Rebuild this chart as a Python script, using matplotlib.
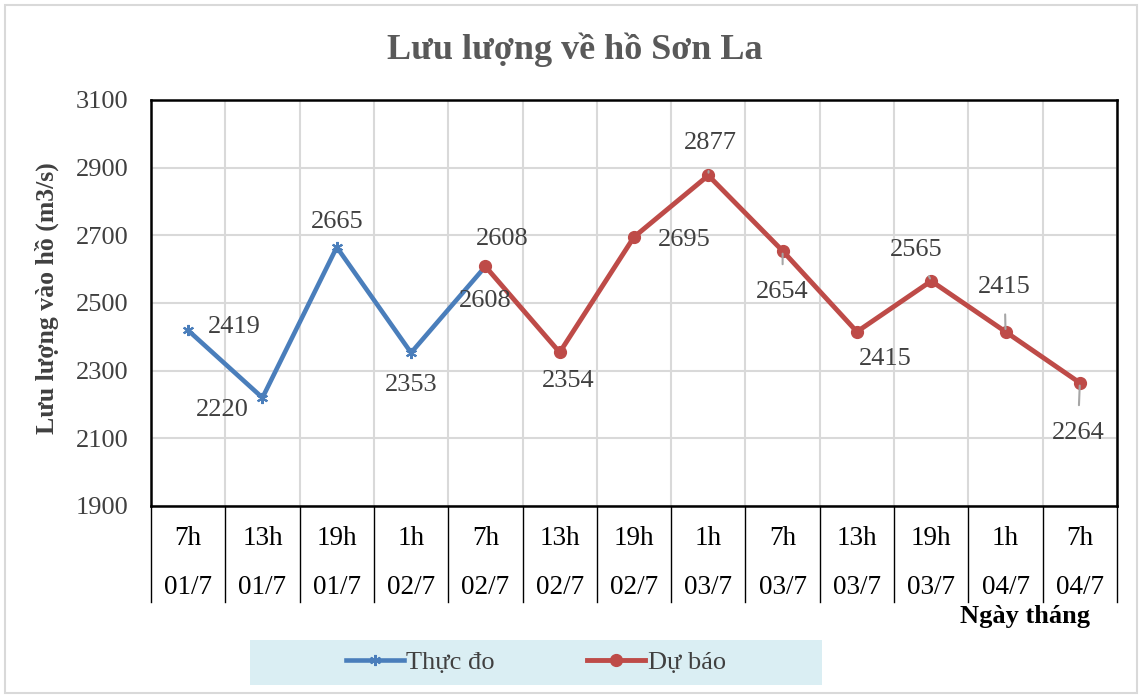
import numpy as np
import matplotlib.pyplot as plt
import matplotlib.patches as patches
import matplotlib.lines as mlines
import matplotlib.transforms as mtransforms

# data
gio = ["7h", "13h", "19h", "1h", "7h", "13h", "19h", "1h", "7h", "13h", "19h", "1h", "7h"]
ngay = ["01/7", "01/7", "01/7", "02/7", "02/7", "02/7", "02/7", "03/7", "03/7", "03/7", "03/7", "04/7", "04/7"]
thuc_do = [2419, 2220, 2665, 2353, 2608]
du_bao = [2608, 2354, 2695, 2877, 2654, 2415, 2565, 2415, 2264]
y_ticks = [1900, 2100, 2300, 2500, 2700, 2900, 3100]

BLUE = "#4A7EBB"
RED = "#BE4B48"
TXT = "#404040"
FONT = "Liberation Serif"

plt.rcParams['font.family'] = [FONT, 'DejaVu Serif']

fig = plt.figure(figsize=(11.42, 6.98), dpi=100)
fig.patch.set_facecolor("white")
fig.add_artist(patches.Rectangle((5/1142, 5/698), 1132/1142, 688/698, transform=fig.transFigure,
                                 fill=False, edgecolor="#D9D9D9", lw=1.5))

ax = fig.add_axes([151/1142, 1 - 506/698, 966/1142, 406/698])

x_td = np.arange(len(thuc_do))
x_db = np.arange(len(thuc_do) - 1, len(thuc_do) - 1 + len(du_bao))

ax.plot(x_td, thuc_do, color=BLUE, lw=3.3, marker=(6, 2, 0), markersize=8,
        markeredgewidth=1.5, markeredgecolor=BLUE, zorder=3)
ax.plot(x_db, du_bao, color=RED, lw=3.5, marker="o", markersize=8.5, zorder=4)

ax.set_xlim(-0.5, len(gio) - 0.5)
ax.set_ylim(y_ticks[0], y_ticks[-1])
ax.set_yticks(y_ticks)
ax.set_xticks(np.arange(len(gio) + 1) - 0.5, minor=True)
ax.set_xticks([])
ax.grid(True, which="minor", axis="x", color="#D9D9D9", lw=1.5)
ax.grid(True, which="major", axis="y", color="#D9D9D9", lw=1.5)
ax.tick_params(axis="y", length=0, pad=16, labelsize=19, labelcolor=TXT)
ax.tick_params(axis="x", which="both", length=0)
for s in ax.spines.values():
    s.set_linewidth(1.8)
    s.set_color("black")
ax.set_axisbelow(True)

# category labels and separators under the plot
trans = mtransforms.blended_transform_factory(ax.transData, ax.transAxes)
for i in range(len(gio)):
    ax.text(i, -0.079, gio[i], transform=trans, ha="center", va="center", fontsize=19.5, color="black")
    ax.text(i, -0.200, ngay[i], transform=trans, ha="center", va="center", fontsize=19.5, color="black")
for b in np.arange(len(gio) + 1) - 0.5:
    ax.plot([b, b], [0, -0.236], transform=trans, color="black", lw=1, clip_on=False)

# data labels (offsets in pixels)
lbl_td = [(46, 3, False), (-40, -12, False), (0, 25, False), (0, -32, False), (0, -35, False)]
lbl_db = [(17, 27, False), (8, -29, False), (50, -3, False), (2, 32, True), (0, -41, True),
          (28, -27, False), (-15, 31, True), (-1, 45, True), (-2, -50, True)]
for xs, ys, offs in [(x_td, thuc_do, lbl_td), (x_db, du_bao, lbl_db)]:
    for xv, yv, (dx, dy, lead) in zip(xs, ys, offs):
        ap = dict(arrowstyle="-", color="#A6A6A6", lw=1.5, shrinkA=10, shrinkB=2) if lead else None
        ax.annotate(str(yv), (xv, yv), xytext=(dx, dy), textcoords="offset pixels",
                    ha="center", va="center", fontsize=19, color=TXT, arrowprops=ap, zorder=5)

fig.text(575/1142, 1 - 50/698, "Lưu lượng về hồ Sơn La", ha="center", va="center",
         fontsize=26, fontweight="bold", color="#595959")
fig.text(47/1142, 1 - 298/698, "Lưu lượng vào hồ (m3/s)", ha="center", va="center",
         rotation=90, fontsize=18.5, fontweight="bold", color=TXT)
fig.text(1090/1142, 1 - 617/698, "Ngày tháng", ha="right", va="center",
         fontsize=19, fontweight="bold", color="black")

# legend
fig.add_artist(patches.Rectangle((250/1142, 1 - 685/698), 572/1142, 45/698, transform=fig.transFigure,
                                 facecolor="#DAEEF3", edgecolor="none"))
h1 = mlines.Line2D([], [], color=BLUE, lw=3.3, marker=(6, 2, 0), markersize=8,
                   markeredgewidth=1.5, label="Thực đo")
h2 = mlines.Line2D([], [], color=RED, lw=3.5, marker="o", markersize=8.5, label="Dự báo")
fig.legend(handles=[h1, h2], loc="center", bbox_to_anchor=(536/1142, 1 - 662/698), ncol=2,
           frameon=False, fontsize=19, labelcolor=TXT, handlelength=2.2, handletextpad=0.1,
           columnspacing=3.5)

fig.savefig("out.png", dpi=100)
